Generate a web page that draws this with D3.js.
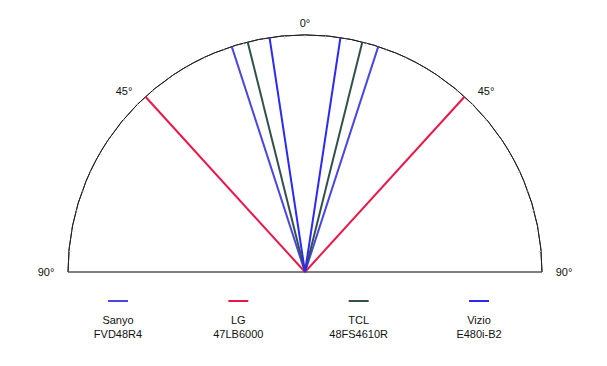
<!DOCTYPE html>
<html>
<head>
<meta charset="utf-8">
<script src="https://cdn.jsdelivr.net/npm/d3@7"></script>
<style>
  body { margin: 0; background: #fff; }
  text { font-family: "Liberation Sans", Arial, sans-serif; font-size: 11px; fill: #111; }
</style>
</head>
<body>
<svg width="607" height="366"></svg>
<script>
// viewing angle data, degrees off centre (each drawn on both sides)
const brands = ["Sanyo", "LG", "TCL", "Vizio"];
const models = ["FVD48R4", "47LB6000", "48FS4610R", "E480i-B2"];
const viewAngles = [18, 42.3, 14, 8.6];
const colors = ["#4a46e0", "#e8194a", "#33504a", "#2a2af0"];
const tickLabels = [-90, -45, 0, 45, 90];

const svg = d3.select("svg");
const cx = 305, cy = 272, r = 237;

const a = d3.scaleLinear().domain([-90, 90]).range([-Math.PI / 2, Math.PI / 2]);
const px = (deg, rad) => cx + rad * Math.sin(a(deg));
const py = (deg, rad) => cy - rad * Math.cos(a(deg));

const g = svg.append("g");

// half circle outline
g.append("path")
    .attr("d", d3.arc().innerRadius(r).outerRadius(r)
        .startAngle(a(-90)).endAngle(a(90))())
    .attr("transform", "translate(" + cx + "," + cy + ")")
    .attr("fill", "none")
    .attr("stroke", "#222")
    .attr("stroke-width", 1);

// base line
g.append("line")
    .attr("x1", px(-90, r)).attr("x2", px(90, r))
    .attr("y1", cy).attr("y2", cy)
    .attr("stroke", "#555")
    .attr("stroke-width", 1.5);

// small ticks on the arc
g.selectAll(".tick")
    .data(d3.range(-85, 90, 5))
    .enter().append("line")
    .attr("class", "tick")
    .attr("x1", (d) => px(d, r))
    .attr("y1", (d) => py(d, r))
    .attr("x2", (d) => px(d, r - 3))
    .attr("y2", (d) => py(d, r - 3))
    .attr("stroke", "#d4d4d4")
    .attr("stroke-width", 0.8);

// angle labels
g.selectAll(".lbl")
    .data(tickLabels)
    .enter().append("text")
    .attr("class", "lbl")
    .attr("text-anchor", "middle")
    .attr("x", (d) => Math.abs(d) === 90 ? px(d, r + 22) : px(d, r + 19))
    .attr("y", (d) => Math.abs(d) === 90 ? cy + 4 : (d === 0 ? py(d, r + 12) + 4 : py(d, r + 19) + 4))
    .text((d) => Math.abs(d) + "°");

// viewing angle rays
const rays = [];
viewAngles.forEach((v, i) => { rays.push({ i: i, deg: -v }); rays.push({ i: i, deg: v }); });
g.selectAll(".ray")
    .data(rays)
    .enter().append("line")
    .attr("class", "ray")
    .attr("x1", cx).attr("y1", cy)
    .attr("x2", (d) => px(d.deg, r))
    .attr("y2", (d) => py(d.deg, r))
    .attr("stroke", (d) => colors[d.i])
    .attr("stroke-width", 2);

// legend
const lx = d3.scalePoint().domain(brands).range([118, 479]);
const leg = g.selectAll(".leg")
    .data(brands)
    .enter().append("g")
    .attr("class", "leg")
    .attr("transform", (d) => "translate(" + lx(d) + ",0)");
leg.append("line")
    .attr("x1", -10).attr("x2", 10)
    .attr("y1", 301).attr("y2", 301)
    .attr("stroke", (d, i) => colors[i])
    .attr("stroke-width", 2);
leg.append("text")
    .attr("text-anchor", "middle")
    .attr("y", 324)
    .text((d) => d);
leg.append("text")
    .attr("text-anchor", "middle")
    .attr("y", 338)
    .text((d, i) => models[i]);
</script>
</body>
</html>
